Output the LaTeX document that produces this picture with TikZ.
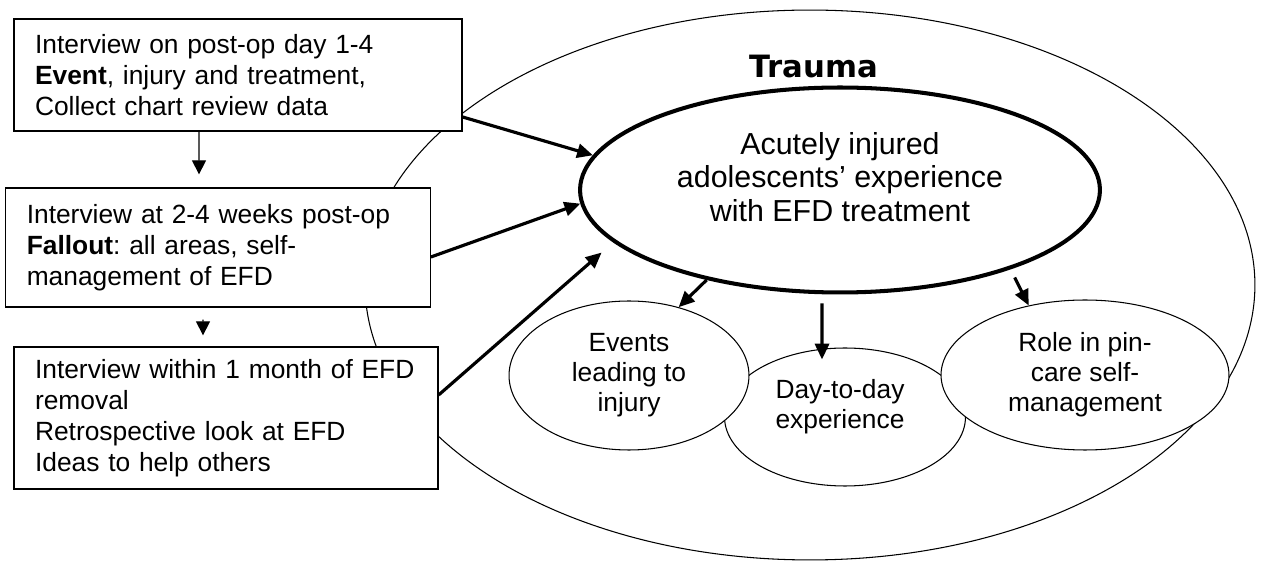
\documentclass[tikz,border=0pt]{standalone}
\usepackage{fontspec}
\setmainfont{Liberation Sans}
\newfontfamily\headfont{DejaVu Sans}
\usetikzlibrary{arrows.meta,shapes.geometric}
\frenchspacing

\begin{document}
\begin{tikzpicture} [x=0.02cm, y=-0.02cm,
					box/.style = {draw,
					    rectangle,
					    fill=white,
					    line width=0.75pt,
					    align=left,
					    inner xsep=0.42cm,
					    inner ysep=0pt,
					    font=\fontsize{15}{17.6}\selectfont},
					oval/.style = {draw,
					    ellipse,
					    fill=white,
					    line width=0.6pt,
					    inner sep=0pt,
					    align=center,
					    font=\fontsize{15}{17}\selectfont},
					core/.style = {draw, ellipse, line width=2.3pt, inner sep=0pt},
					link/.style = {-{Triangle[length=9pt,width=8pt]}, line width=1.8pt},
					vlink/.style = {-{Triangle[length=8pt,width=8pt]}, line width=0.7pt}]

					\useasboundingbox (0,0) rectangle (1261,563);

					% outer trauma ellipse
					\node (Trauma) at (810,285) [oval, minimum width=17.8cm, minimum height=11cm] {};
					\node (TraumaText) at (814,67) {\headfont\bfseries\fontsize{17.5}{20}\selectfont Trauma};

					% interview boxes
					\node (I1) at (238,75) [box, text width=8.12cm, minimum height=2.24cm]
					    {Interview on post-op day 1-4\\ \textbf{Event}, injury and treatment,\\ Collect chart review data};
					\node (I2) at (218,247.5) [box, text width=7.65cm, minimum height=2.38cm]
					    {Interview at 2-4 weeks post-op\\ \textbf{Fallout}: all areas, self-\\ management of EFD};
					\node (I3) at (226,418) [box, text width=7.64cm, minimum height=2.84cm]
					    {Interview within 1 month of EFD\\ removal\\ Retrospective look at EFD\\ Ideas to help others};

					% themes
					\node (Day) at (845,417) [oval, minimum width=4.82cm, minimum height=2.76cm] {};
					\node (Ev) at (629,375.5) [oval, minimum width=4.8cm, minimum height=2.98cm] {Events\\leading to\\injury};
					\node (Role) at (1085,375) [oval, minimum width=5.76cm, minimum height=3cm] {Role in pin-\\care self-\\management};
					\node (DayText) at (840,407) [align=center, font=\fontsize{15}{17}\selectfont] {Day-to-day\\experience};

					\node (Exp) at (840,190) [core, minimum width=10.4cm, minimum height=4.1cm] {};
					\node (ExpText) at (840,177) [align=center, font=\fontsize{17.3}{19}\selectfont]
					    {Acutely injured\\adolescents’ experience\\with EFD treatment};

					\draw [vlink, shorten >=0.26cm] ([xshift=-0.78cm]I1.south) -- ([xshift=-0.38cm]I2.north);
					\draw [vlink, shorten <=0.24cm, shorten >=0.22cm] ([xshift=-0.3cm]I2.south) -- ([xshift=-0.46cm]I3.north);

					\draw [link] ([yshift=-0.84cm]I1.east) -- (Exp.172);
					\draw [link] ([yshift=-0.19cm]I2.east) -- (Exp.183);
					\draw [link, shorten >=0.31cm] ([yshift=0.46cm]I3.east) -- (Exp.193);

					\draw [link] (Exp.214) -- (Ev.54);
					\draw [link, shorten <=0.18cm] ([xshift=-0.36cm]Exp.south) -- ([xshift=-0.46cm,yshift=-0.24cm]Day.north);
					\draw [link] ([xshift=-0.28cm,yshift=0.56cm]Role.129) -- (Role.129);

				\end{tikzpicture}
\end{document}
